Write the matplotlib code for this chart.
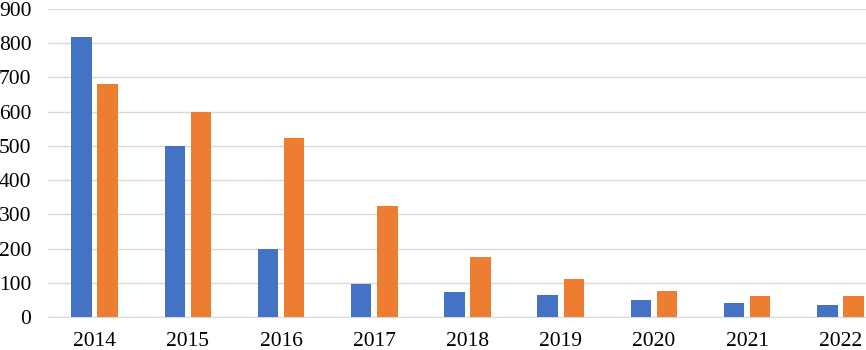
import matplotlib
matplotlib.use("Agg")
import matplotlib.pyplot as plt
import numpy as np

years  = ["2014", "2015", "2016", "2017", "2018", "2019", "2020", "2021", "2022"]
blue   = [818, 500, 199, 96, 73, 64, 50, 41, 35]
orange = [681, 600, 523, 325, 175, 111, 77, 61, 62]

plt.rcParams['font.family'] = ['Liberation Serif', 'DejaVu Serif']
plt.rcParams['font.size'] = 15.5

fig = plt.figure(figsize=(8.66, 3.5), dpi=100)
# axes runs a little past the right edge, like the cropped original
ax = fig.add_axes([48/866, 1 - 317/350, (887 - 48)/866 * (8.27 + 0.5) / 9.0, 308/350])

x = np.arange(len(years))
w = 0.22
off = 0.14
ax.bar(x - off, blue, w, color="#4472C4", zorder=3)
ax.bar(x + off, orange, w, color="#ED7D31", zorder=3)

ax.set_xlim(-0.5, 8.27)
ax.set_ylim(0, 900)
ax.set_yticks(range(0, 901, 100))
ax.set_xticks(x)
ax.set_xticklabels(years)

ax.grid(axis="y", color="#d9d9d9", linewidth=1, zorder=0)
for s in ["top", "right", "left"]:
    ax.spines[s].set_visible(False)
ax.spines["bottom"].set_color("#d9d9d9")
ax.tick_params(axis="both", length=0)
ax.tick_params(axis="y", pad=12)
ax.tick_params(axis="x", pad=10.5)

fig.savefig("out.png", dpi=100)
